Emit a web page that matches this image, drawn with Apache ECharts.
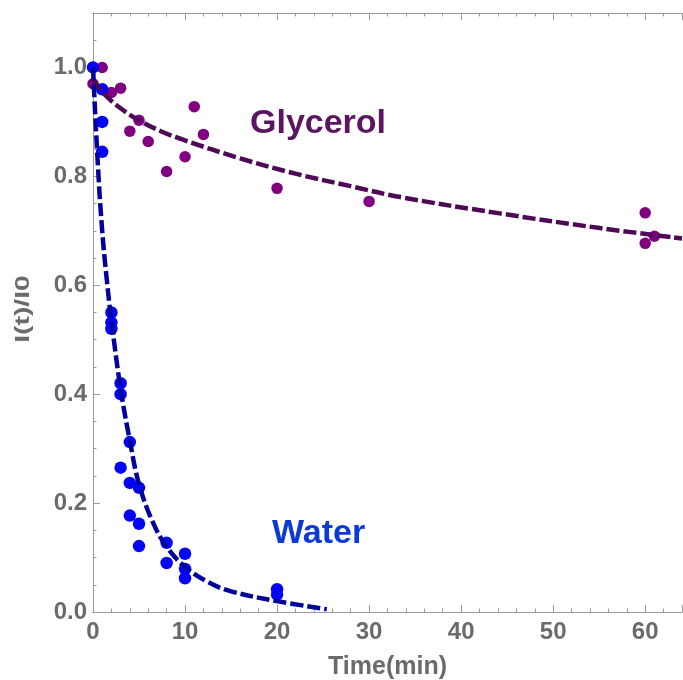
<!DOCTYPE html>
<html>
<head>
<meta charset="utf-8">
<script src="https://cdn.jsdelivr.net/npm/echarts@6/dist/echarts.min.js"></script>
<style>
  html, body { margin: 0; padding: 0; background: #fff; }
  #chart { width: 683px; height: 680px; }
</style>
</head>
<body>
<div id="chart"></div>
<script>
// Measured intensity ratios I(t)/I0 versus time (min)
const waterTime = [0, 1, 1, 1, 2, 2, 2, 3, 3, 4, 3, 4, 5, 4, 5, 5, 8, 8, 10, 10, 10, 20, 20];
const waterI = [1.0, 0.96, 0.90, 0.845, 0.55, 0.532, 0.52, 0.42, 0.40, 0.312, 0.265, 0.237, 0.228, 0.177, 0.162, 0.121, 0.127, 0.09, 0.107, 0.079, 0.062, 0.042, 0.032];

const glyTime = [0, 1, 2, 3, 4, 5, 6, 8, 10, 11, 12, 20, 30, 60, 61, 60];
const glyI = [0.97, 1.0, 0.954, 0.962, 0.883, 0.903, 0.864, 0.809, 0.836, 0.928, 0.877, 0.778, 0.754, 0.733, 0.69, 0.677];

// Fitted decay curves (sampled)
const waterFitTime = [0, 0.5, 1, 1.5, 2, 3, 4, 5, 6.5, 8, 10, 12.5, 15, 20, 25.4];
const waterFitI = [1.0, 0.83, 0.70, 0.61, 0.535, 0.41, 0.315, 0.235, 0.165, 0.12, 0.083, 0.055, 0.038, 0.02, 0.005];

const glyFitTime = [0, 1.3, 3, 5, 7.5, 10, 16, 22, 28, 33.4, 44.2, 55.1, 64];
const glyFitI = [0.978, 0.95, 0.925, 0.903, 0.882, 0.866, 0.833, 0.805, 0.782, 0.762, 0.732, 0.705, 0.686];

const xTicksMajor = 10, xTicksMinor = 2;
const yTicksMajor = 0.2, yTicksMinor = 0.05;

const pairs = (xs, ys) => xs.map((x, i) => [x, ys[i]]);

const FONT = '"Liberation Sans", Arial, Helvetica, sans-serif';
const AXIS_GRAY = '#999999';
const TEXT_GRAY = '#6b6b6b';

function xAxisDef(position, interval, tickLen, withLabels) {
  return {
    type: 'value', position: position, min: 0, max: 64, interval: interval,
    axisLine: { show: true, onZero: false, lineStyle: { color: AXIS_GRAY, width: 1 } },
    axisTick: { show: true, inside: true, length: tickLen, lineStyle: { color: AXIS_GRAY, width: 1 } },
    splitLine: { show: false },
    axisLabel: withLabels ? {
      show: true, margin: 8, color: TEXT_GRAY, fontFamily: FONT, fontWeight: 'bold', fontSize: 24,
      formatter: v => (Math.abs(v % 10) < 1e-9 ? String(v) : '')
    } : { show: false },
    name: withLabels ? 'Time(min)' : '',
    nameLocation: 'middle', nameGap: 43,
    nameTextStyle: { color: TEXT_GRAY, fontFamily: FONT, fontWeight: 'bold', fontSize: 25 }
  };
}

function yAxisDef(interval, tickLen, withLabels) {
  return {
    type: 'value', position: 'left', min: 0, max: 1.1, interval: interval,
    axisLine: { show: true, onZero: false, lineStyle: { color: AXIS_GRAY, width: 1 } },
    axisTick: { show: true, inside: true, length: tickLen, lineStyle: { color: AXIS_GRAY, width: 1 } },
    splitLine: { show: false },
    axisLabel: withLabels ? {
      show: true, margin: 6, color: TEXT_GRAY, fontFamily: FONT, fontWeight: 'bold', fontSize: 24,
      formatter: v => {
        const k = v / 0.2;
        return Math.abs(k - Math.round(k)) < 1e-6 ? v.toFixed(1) : '';
      }
    } : { show: false }
  };
}

const chart = echarts.init(document.getElementById('chart'), null, { renderer: 'canvas' });

chart.setOption({
  animation: false,
  backgroundColor: '#ffffff',
  grid: { left: 93, right: 1, top: 13, bottom: 68, containLabel: false, outerBoundsMode: 'none' },
  xAxis: [
    xAxisDef('bottom', xTicksMajor, 7, true),
    xAxisDef('bottom', xTicksMinor, 3.5, false),
    xAxisDef('top', xTicksMajor, 7, false),
    xAxisDef('top', xTicksMinor, 3.5, false)
  ],
  yAxis: [
    yAxisDef(yTicksMajor, 7, true),
    yAxisDef(yTicksMinor, 3.5, false)
  ],
  series: [
    {
      name: 'Glycerol data', type: 'scatter', xAxisIndex: 0, yAxisIndex: 0,
      data: pairs(glyTime, glyI), symbol: 'circle', symbolSize: 11.5,
      itemStyle: { color: '#800080', opacity: 1 }, z: 2
    },
    {
      name: 'Water data', type: 'scatter', xAxisIndex: 0, yAxisIndex: 0,
      data: pairs(waterTime, waterI), symbol: 'circle', symbolSize: 12.5,
      itemStyle: { color: '#0505f5', opacity: 1 }, z: 3
    },
    {
      name: 'Glycerol fit', type: 'line', xAxisIndex: 0, yAxisIndex: 0,
      data: pairs(glyFitTime, glyFitI), smooth: 0.4, showSymbol: false,
      lineStyle: { color: '#4e0856', width: 4.5, type: [13, 4] }, z: 4
    },
    {
      name: 'Water fit', type: 'line', xAxisIndex: 0, yAxisIndex: 0,
      data: pairs(waterFitTime, waterFitI), smooth: 0.4, showSymbol: false,
      lineStyle: { color: '#00009c', width: 4.5, type: [13, 4] }, z: 5
    }
  ],
  graphic: [
    {
      // vertical axis title, slightly stretched along its length
      type: 'text', x: 23, y: 309, rotation: Math.PI / 2, scaleX: 1.35, z: 10,
      style: {
        text: 'I(t)/I0', fill: TEXT_GRAY, font: 'bold 21px ' + FONT,
        align: 'center', verticalAlign: 'middle'
      }
    },
    {
      type: 'text', left: 250, top: 107, z: 10,
      style: { text: 'Glycerol', fill: '#5a1661', font: 'bold 34px ' + FONT }
    },
    {
      type: 'text', left: 272, top: 517, z: 10,
      style: { text: 'Water', fill: '#0b3ad9', font: 'bold 34px ' + FONT }
    }
  ]
});
</script>
</body>
</html>
